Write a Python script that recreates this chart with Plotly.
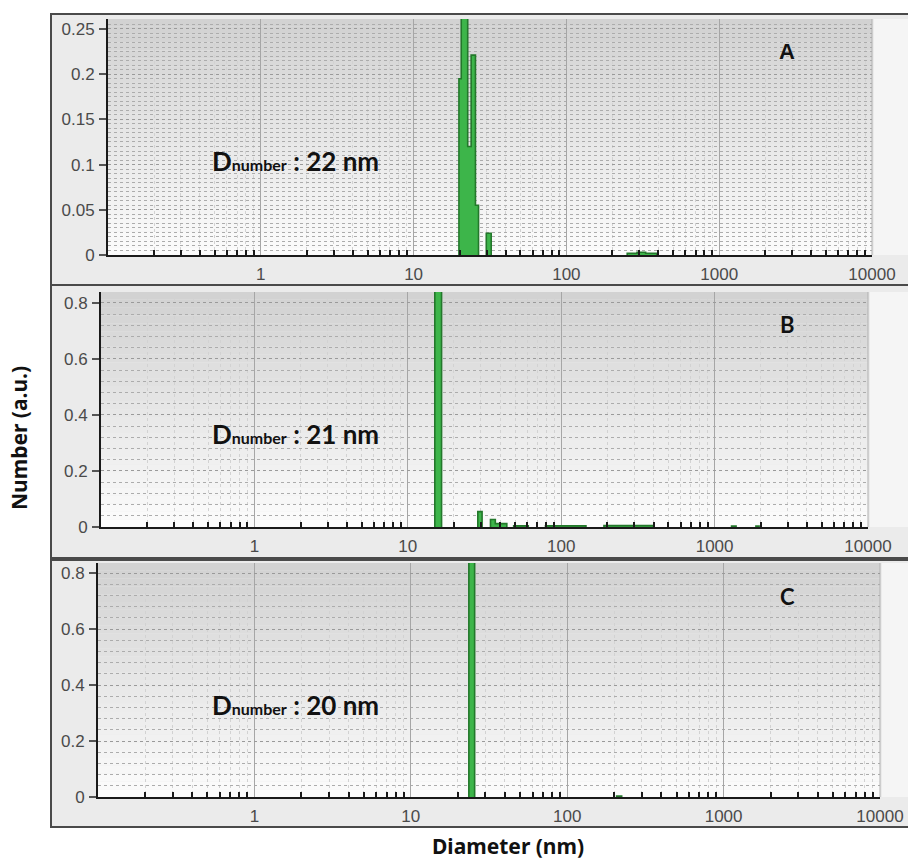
import plotly.graph_objects as go

# ---------------- data ----------------
x_tickvals = [1, 10, 100, 1000, 10000]
x_ticktext = ["1", "10", "100", "1000", "10000"]

A_edges = [19.8, 20.5, 22.6, 23.8, 25.4, 26.6, 29.9, 32.2, 250, 290, 330, 390]
A_heights = [0.195, 0.40, 0.12, 0.221, 0.055, 0, 0.024, 0, 0.002, 0.003, 0.002]

B_edges = [15.0, 16.6, 28.6, 30.5, 34.6, 37.2, 44.2, 49, 61, 79, 145, 190, 400, 1290, 1380, 1860, 1950]
B_heights = [1.0, 0, 0.055, 0, 0.027, 0.012, 0, 0.004, 0, 0.004, 0, 0.005, 0, 0.003, 0, 0.003]

C_edges = [23.5, 25.6, 207, 223]
C_heights = [1.0, 0, 0.003]

A_yticks = [0, 0.05, 0.1, 0.15, 0.2, 0.25]
A_yticktext = ["0", "0.05", "0.1", "0.15", "0.2", "0.25"]
BC_yticks = [0, 0.2, 0.4, 0.6, 0.8]
BC_yticktext = ["0", "0.2", "0.4", "0.6", "0.8"]

sizes_nm = ["22 nm", "21 nm", "20 nm"]
panel_letters = ["A", "B", "C"]

# ---------------- layout geometry (pixels) ----------------
W, H = 908, 859
def px(x):
    return x / W
def py(y):
    return 1 - y / H

panels = [
    dict(area=(108, 872, 19, 255), box=(14, 285), yr=[0, 0.261], dt=0.005,
         tv=A_yticks, tt=A_yticktext, edges=A_edges, h=A_heights),
    dict(area=(101, 868, 292, 527), box=(285, 558), yr=[0, 0.839], dt=0.04,
         tv=BC_yticks, tt=BC_yticktext, edges=B_edges, h=B_heights),
    dict(area=(98, 880, 563, 797), box=(560, 827), yr=[0, 0.836], dt=0.04,
         tv=BC_yticks, tt=BC_yticktext, edges=C_edges, h=C_heights),
]

minor_x = [m * 10 ** e for e in range(-1, 4) for m in range(2, 10)]


def step_segments(edges, heights):
    """Outline of adjacent histogram bins; zero-height bins break the outline."""
    xs, ys = [], []
    seg = []
    for k, hv in enumerate(heights):
        if hv > 0:
            seg.append(k)
        if (hv <= 0 or k == len(heights) - 1) and seg:
            xs += [edges[seg[0]]]
            ys += [0]
            for j in seg:
                xs += [edges[j], edges[j + 1]]
                ys += [heights[j], heights[j]]
            xs += [edges[seg[-1] + 1], None]
            ys += [0, None]
            seg = []
    return xs, ys


fig = go.Figure()
shapes = []
annotations = []

tick_font = dict(family="Liberation Sans, Arial, sans-serif", size=17, color="#4a4a4a")
green_fill = "#3db54a"
green_line = "#23782b"

for i, p in enumerate(panels):
    n = "" if i == 0 else str(i + 1)
    xa, ya = "x" + n, "y" + n
    x0, x1, yt, yb = p["area"]
    bt, bb = p["box"]

    # outer framed panel
    shapes.append(dict(type="rect", xref="paper", yref="paper",
                       x0=px(51), x1=px(915), y0=py(bb), y1=py(bt),
                       fillcolor="#ebebeb", line=dict(color="#4a4a4a", width=2),
                       layer="below"))
    shapes.append(dict(type="rect", xref="paper", yref="paper",
                       x0=px(x1 + 2), x1=px(908), y0=py(yb), y1=py(yt),
                       fillcolor="#f5f5f5", line=dict(width=0), layer="below"))
    # gradient plot background: gray at top to white at bottom
    nb = 30
    for k in range(nb):
        t = k / (nb - 1)
        c = int(210 + (252 - 210) * t)
        shapes.append(dict(type="rect", xref=xa + " domain", yref=ya + " domain",
                           x0=0, x1=1, y0=1 - (k + 1) / nb, y1=1 - k / nb,
                           fillcolor=f"rgb({c},{c},{c})", line=dict(width=0),
                           layer="below"))
    shapes.append(dict(type="line", xref=xa + " domain", yref=ya + " domain",
                       x0=1, x1=1, y0=0, y1=1, line=dict(color="#b0b0b0", width=1),
                       layer="below"))

    # step-histogram bars
    xs, ys = step_segments(p["edges"], p["h"])
    fig.add_trace(go.Scatter(x=xs, y=ys, mode="lines",
                             fill="toself", fillcolor=green_fill,
                             line=dict(color=green_line, width=1.6),
                             xaxis=xa, yaxis=ya, showlegend=False, hoverinfo="skip"))

    xkey = "xaxis" + n
    ykey = "yaxis" + n
    fig.layout[xkey] = dict(
        type="log", range=[-1, 4], domain=[px(x0), px(x1)], anchor=ya,
        automargin=False,
        tickmode="array", tickvals=x_tickvals, ticktext=x_ticktext,
        ticks="", tickfont=tick_font, showline=True, linecolor="#1a1a1a",
        linewidth=2, showgrid=True, gridcolor="#a6a6a6", gridwidth=1.2,
        zeroline=False, fixedrange=True, ticklabelstandoff=3,
        minor=dict(tickmode="array", tickvals=minor_x, ticks="inside",
                   ticklen=5, tickcolor="#1a1a1a", tickwidth=1.5,
                   showgrid=True, gridcolor="#d2d2d2", griddash="dot", gridwidth=1),
    )
    fig.layout[ykey] = dict(
        range=p["yr"], domain=[py(yb), py(yt)], anchor=xa,
        automargin=False,
        tickmode="array", tickvals=p["tv"], ticktext=p["tt"],
        ticks="outside", ticklen=7, tickcolor="#555555", tickwidth=1.5,
        tickfont=tick_font, showline=True, linecolor="#1a1a1a", linewidth=2,
        showgrid=True, gridcolor="#9a9a9a", griddash="dot", gridwidth=1,
        zeroline=False, fixedrange=True, ticklabelstandoff=1,
        minor=dict(dtick=p["dt"], tick0=0, ticks="", showgrid=True,
                   gridcolor="#acacac", griddash="dot", gridwidth=1),
    )

    # label and panel letter
    label = ('D<span style="font-size:16px">number</span> : ' + sizes_nm[i])
    annotations.append(dict(xref="paper", yref="paper", x=px(210), y=py(yt + 142),
                            text=label, showarrow=False, xanchor="left",
                            yanchor="middle",
                            font=dict(family="Lato, Noto Sans, sans-serif",
                                      size=26, color="#111111", weight="bold")))
    annotations.append(dict(xref="paper", yref="paper", x=px(787), y=py(yt + 33),
                            text=panel_letters[i], showarrow=False,
                            xanchor="center", yanchor="middle",
                            font=dict(family="Liberation Sans, Arial, sans-serif"
                                      if i == 0 else "Lato, Noto Sans, sans-serif",
                                      size=22, color="#111111", weight="bold")))

annotations.append(dict(xref="paper", yref="paper", x=px(19), y=py(438),
                        text="Number (a.u.)", showarrow=False, textangle=-90,
                        xanchor="center", yanchor="middle",
                        font=dict(family="Noto Sans, Open Sans, sans-serif", size=21,
                                  color="#111111", weight="bold")))
annotations.append(dict(xref="paper", yref="paper", x=px(508), y=py(846),
                        text="Diameter (nm)", showarrow=False,
                        xanchor="center", yanchor="middle",
                        font=dict(family="Noto Sans, Open Sans, sans-serif", size=21,
                                  color="#111111", weight="bold")))

fig.update_layout(
    width=W, height=H, margin=dict(l=0, r=0, t=0, b=0, pad=0, autoexpand=False),
    paper_bgcolor="white", plot_bgcolor="rgba(0,0,0,0)",
    shapes=shapes, annotations=annotations, showlegend=False,
)

fig.write_html("out.html", config={"displayModeBar": False})

# remove the default page margin so the figure sits at the window's origin
with open("out.html", encoding="utf-8") as f:
    html = f.read()
html = html.replace("<head>", "<head><style>html,body{margin:0;padding:0;overflow:hidden}</style>", 1)
with open("out.html", "w", encoding="utf-8") as f:
    f.write(html)
